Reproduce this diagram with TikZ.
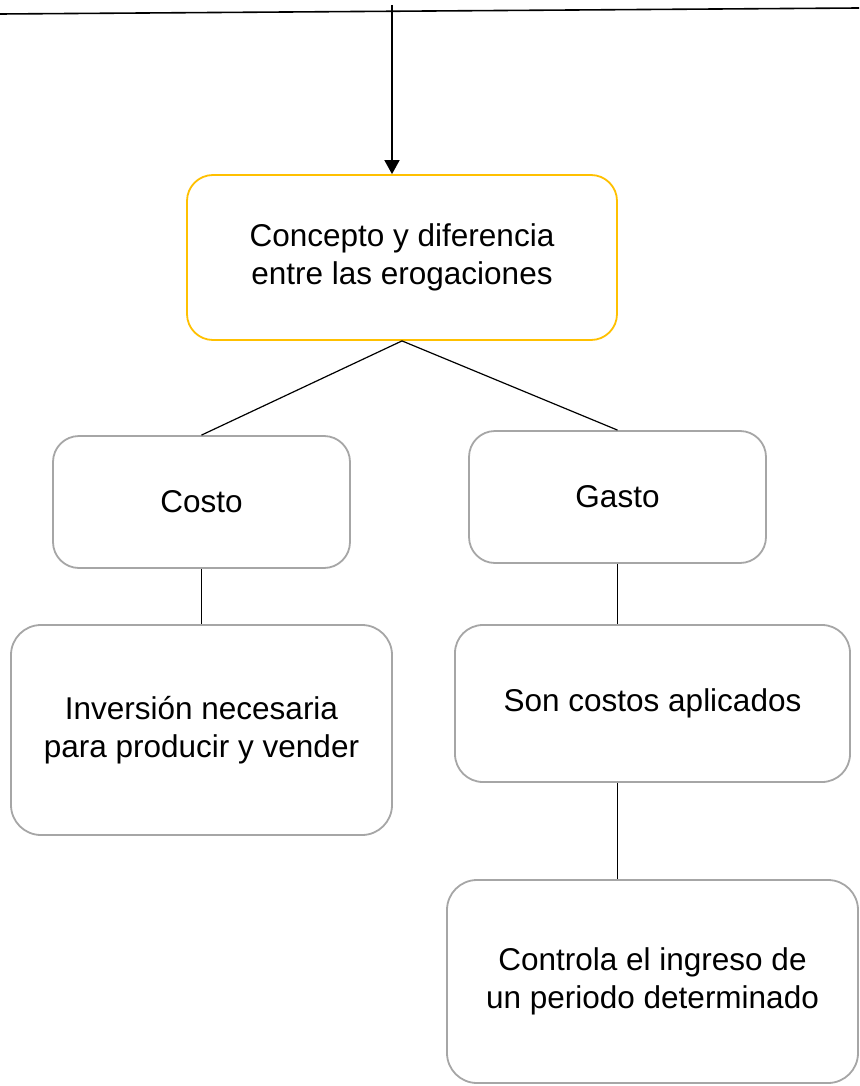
\documentclass[tikz,border=0pt]{standalone}
\usepackage{fontspec}
\setmainfont{Liberation Sans}
\usetikzlibrary{arrows.meta}
\definecolor{boxgray}{HTML}{A6A6A6}
\definecolor{gold}{HTML}{FFC000}
\begin{document}
\begin{tikzpicture}[x=1pt,y=-1pt,
  card/.style={draw=boxgray,line width=1.8pt,rounded corners=26pt,align=center,
    font=\fontsize{31.5}{37.5}\selectfont,inner sep=0pt},
  link/.style={draw=black,line width=1.2pt}]
\useasboundingbox (0,0) rectangle (859,1086);
\node[card,draw=gold,minimum width=430pt,minimum height=165pt] (top) at (402,257.5) {Concepto y diferencia\\entre las erogaciones};
\node[card,minimum width=297pt,minimum height=132pt] (costo) at (201.5,502) {Costo};
\node[card,minimum width=297pt,minimum height=132pt] (gasto) at (617.5,497) {Gasto};
\node[card,minimum width=381pt,minimum height=210pt,rounded corners=30pt] (inv) at (201.5,730) {Inversi\'on necesaria\\para producir y vender};
\node[card,minimum width=395pt,minimum height=157pt,rounded corners=28pt] (son) at (652.5,703.5) {Son costos aplicados};
\node[card,minimum width=411pt,minimum height=203pt,rounded corners=30pt] (ctl) at (652.5,981.5) {Controla el ingreso de\\un periodo determinado};
\coordinate (tl) at (0,14);
\coordinate (tr) at (859,8);
\coordinate (as) at (392,5);
\draw[link,line width=1.6pt] (tl) -- (tr);
\draw[link,line width=1.8pt,-{Triangle[length=14pt,width=15pt]}] (as) -- (as |- top.north);
\draw[link] (top.south) -- (costo.north);
\draw[link] (top.south) -- (gasto.north);
\draw[link] (costo.south) -- (costo.south |- inv.north);
\draw[link] (gasto.south) -- (gasto.south |- son.north);
\draw[link] (gasto.south |- son.south) -- (gasto.south |- ctl.north);
\end{tikzpicture}
\end{document}
